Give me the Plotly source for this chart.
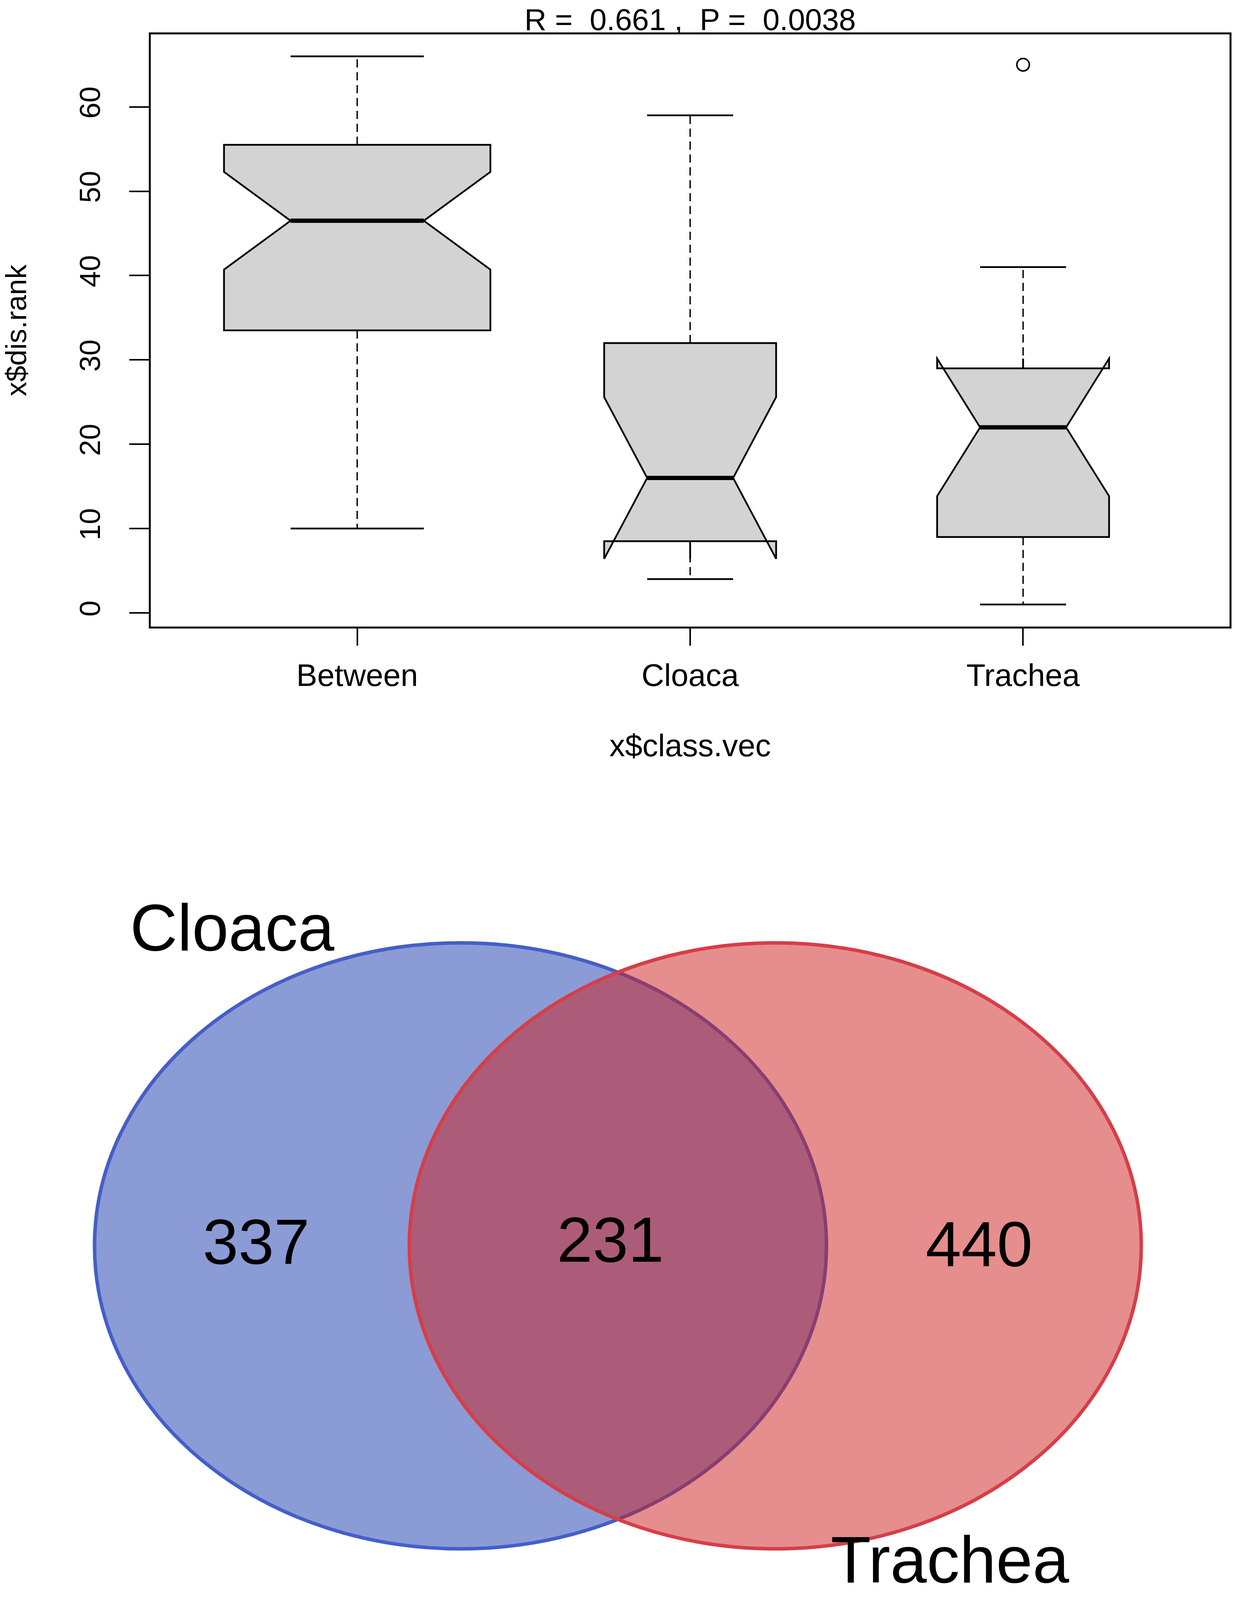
import numpy as np
import plotly.graph_objects as go

# ------------------------------
# DATA
# ------------------------------
categories = ["Between", "Cloaca", "Trachea"]
n_pairs = [36, 15, 15]          # pairwise distances per group (drives box width / notch)
whisker_low = [10, 4, 1]
q1 = [33.5, 8.5, 9]
medians = [46.5, 16, 22]
q3 = [55.5, 32, 29]
whisker_high = [66, 59, 41]
outlier_group = [2]
outlier_rank = [65]
y_ticks = [0, 10, 20, 30, 40, 50, 60]
anosim_r = 0.661
anosim_p = 0.0038

venn_sets = ["Cloaca", "Trachea"]
venn_counts = [337, 231, 440]   # Cloaca only, shared, Trachea only

# ------------------------------
# LAYOUT CONSTANTS
# positions are measured on the 3162 x 4626 reference; the browser only
# photographs a 3162 x 4096 viewport, so the page is squeezed to fit it
# ------------------------------
W, REF_H = 3162, 4626
PAGE_H = 4096
FONT = "Liberation Sans, Arial, sans-serif"
box_left, box_right = 386, 3148           # page px
box_top_px = 88                            # page px (leaves room for the title)
box_bottom = 1811                          # reference px
title_mid_px = 50                          # page px

venn_centers = [(1179, 3602), (1985, 3602)]
venn_rx, venn_ry = 937, 876
venn_fill = ["rgba(23,55,171,0.5)", "rgba(205,29,27,0.5)"]
venn_line = ["rgb(68,95,200)", "rgb(214,62,72)"]
venn_set_pos = [(595, 2682), (2432, 4510)]
venn_count_pos = [(656, 3590), (1563, 3584), (2507, 3596)]

# ------------------------------
# BOXPLOT (notched, varwidth like R)
# ------------------------------
sq = np.sqrt(n_pairs)
box_w = 0.8 * sq / sq.max()
notch = [1.58 * (q3[i] - q1[i]) / sq[i] for i in range(3)]

fig = go.Figure()

for i, cat in enumerate(categories):
    xs = [i, i, None, i, i]
    # dashed whiskers
    fig.add_trace(go.Scatter(x=xs, y=[q3[i], whisker_high[i], None, q1[i], whisker_low[i]],
                             mode="lines", line=dict(color="black", width=3.5, dash="21px,12px"),
                             showlegend=False, hoverinfo="skip"))
    # staples
    s = box_w[i] / 4
    fig.add_trace(go.Scatter(x=[i - s, i + s, None, i - s, i + s],
                             y=[whisker_high[i], whisker_high[i], None, whisker_low[i], whisker_low[i]],
                             mode="lines", line=dict(color="black", width=4.5),
                             showlegend=False, hoverinfo="skip"))
    fig.add_trace(go.Box(x=[i], q1=[q1[i]], median=[medians[i]], q3=[q3[i]],
                         lowerfence=[q1[i]], upperfence=[q3[i]],
                         notched=True, notchspan=[notch[i]], notchwidth=0.25,
                         width=box_w[i], whiskerwidth=0, boxpoints=False,
                         fillcolor="#D3D3D3", line=dict(color="black", width=4.5),
                         name=cat, showlegend=False, hoverinfo="skip"))
    # thick median
    fig.add_trace(go.Scatter(x=[i - s, i + s], y=[medians[i], medians[i]],
                             mode="lines", line=dict(color="black", width=11),
                             showlegend=False, hoverinfo="skip"))

fig.add_trace(go.Scatter(x=outlier_group, y=outlier_rank, mode="markers",
                         marker=dict(symbol="circle-open", size=32, color="black",
                                     line=dict(width=4, color="black")),
                         showlegend=False, hoverinfo="skip"))

x_font = dict(family=FONT, size=80, color="black")
y_font = dict(family=FONT, size=74, color="black")
fig.update_layout(
    xaxis=dict(domain=[box_left / W, box_right / W], range=[-0.62, 2.62],
               tickmode="array", tickvals=list(range(len(categories))), ticktext=categories,
               ticks="outside", ticklen=44, tickwidth=3.5, tickcolor="black",
               showline=True, linewidth=5, linecolor="black", mirror=True,
               showgrid=False, zeroline=False, automargin=False,
               tickfont=x_font, ticklabelstandoff=7,
               title=dict(text="x$class.vec", font=x_font, standoff=110)),
    yaxis=dict(domain=[1 - box_bottom / REF_H, 1 - box_top_px / PAGE_H], range=[-1.6, 68.6],
               tickmode="array", tickvals=y_ticks, tickangle=-90,
               ticks="outside", ticklen=50, tickwidth=3.5, tickcolor="black",
               showline=True, linewidth=5, linecolor="black", mirror=True,
               showgrid=False, zeroline=False, automargin=False,
               tickfont=y_font, ticklabelstandoff=45,
               title=dict(text="x$dis.rank", font=y_font, standoff=146)),
    title=dict(text=f"R =\u00a0 {anosim_r} ,\u00a0 P =\u00a0 {anosim_p}",
               x=(box_left + box_right) / 2 / W, xref="paper", xanchor="center",
               y=1 - title_mid_px / PAGE_H, yref="container", yanchor="middle",
               font=dict(family=FONT, size=78, color="black")),
)

# ------------------------------
# VENN DIAGRAM (axis units = reference pixels)
# ------------------------------
fig.update_layout(
    xaxis2=dict(domain=[0, 1], range=[0, W], visible=False, anchor="y2"),
    yaxis2=dict(domain=[0, 0.5], range=[REF_H, REF_H * 0.5], visible=False, anchor="x2"),
)
for (cx, cy), fc, lc in zip(venn_centers, venn_fill, venn_line):
    fig.add_shape(type="circle", xref="x2", yref="y2",
                  x0=cx - venn_rx, x1=cx + venn_rx, y0=cy - venn_ry, y1=cy + venn_ry,
                  fillcolor=fc, line=dict(color=lc, width=9))

for label, (px, py) in zip(venn_sets, venn_set_pos):
    fig.add_annotation(x=px, y=py, xref="x2", yref="y2", text=label, showarrow=False,
                       xanchor="center", yanchor="middle",
                       font=dict(family=FONT, size=168, color="black"))
for count, (px, py) in zip(venn_counts, venn_count_pos):
    fig.add_annotation(x=px, y=py, xref="x2", yref="y2", text=str(count), showarrow=False,
                       xanchor="center", yanchor="middle",
                       font=dict(family=FONT, size=164, color="black"))

fig.update_layout(width=W, height=PAGE_H, margin=dict(l=0, r=0, t=0, b=0),
                  paper_bgcolor="white", plot_bgcolor="white",
                  template="none", showlegend=False, boxmode="overlay")

# drop the default 8px page margin so the figure sits at the window corner
fig.write_html("out.html", config={"displayModeBar": False},
               post_script="document.body.style.margin='0px';")
